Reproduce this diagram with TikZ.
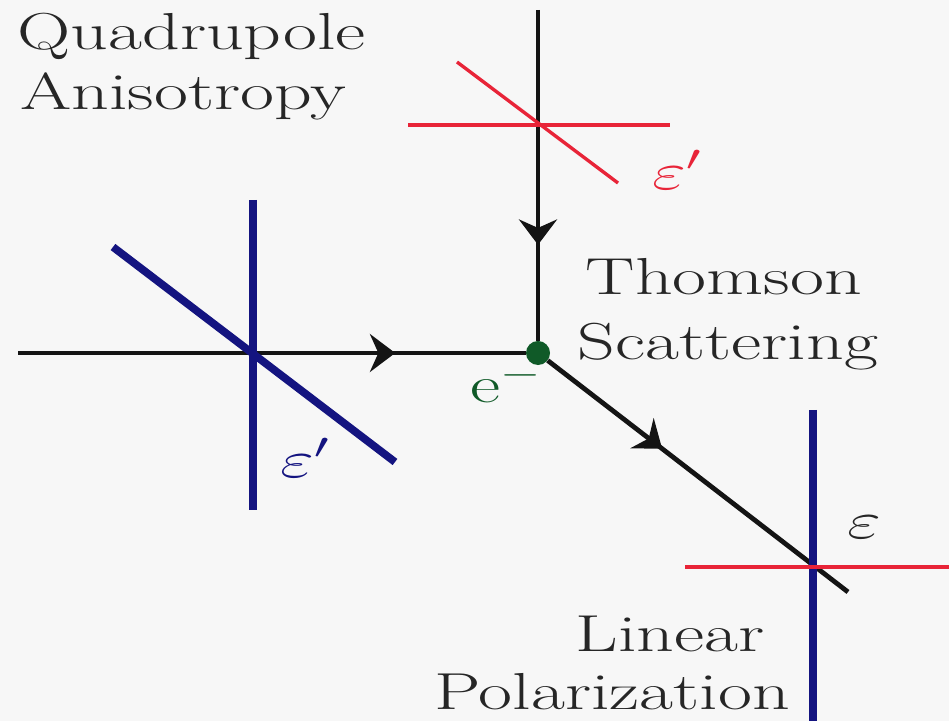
\documentclass[tikz,border=0pt]{standalone}
\usepackage{fix-cm}
\usetikzlibrary{arrows.meta,decorations.markings}

\definecolor{polblue}{RGB}{20,20,128}
\definecolor{polred}{RGB}{232,36,56}
\definecolor{egreen}{RGB}{16,90,40}
\definecolor{bgpaper}{RGB}{247,247,247}

\tikzset{
  beam/.style={line width=3.4pt, black!92},
  midarrow/.style={postaction={decorate}, decoration={markings,
      mark=at position #1 with {\arrow{Stealth[length=18pt,width=27pt,inset=6pt]}}}},
  polb/.style={line width=5.5pt, polblue},
  polr/.style={line width=2.4pt, polred},
  lbl/.style={font=\fontsize{37}{44}\selectfont, xscale=1.42, inner sep=0pt, text=black!85},
}

\begin{document}
\begin{tikzpicture}[x=0.025cm, y=-0.025cm]

		\fill[bgpaper] (0,0) rectangle (949,721);
		\useasboundingbox (0,0) rectangle (949,721);

		% Elektron
		\node[circle, fill=egreen, minimum size=0.6cm, inner sep=0pt] (e) at (538,353) {};
		\node[lbl, text=egreen, anchor=base west] (elab) at (470,403) {e$^-$};

		% Strahlen
		\coordinate (inL) at (18,353);
		\coordinate (inT) at (538,10);
		\coordinate (outE) at (848,592);
		\draw[beam, midarrow=0.743] (inL) -- (e);
		\draw[beam, midarrow=0.71] (inT) -- (e);
		\draw[beam, midarrow=0.381] (e) -- (outE);

		% Polarisation links (blau)
		\draw[polb] (253,200) -- (253,510);
		\draw[polb] (113,247) -- (395,462);
		\node[lbl, text=polblue] (epsL) at (305,458) {$\varepsilon'$};

		% Polarisation oben (rot)
		\draw[polr] (408,125) -- (670,125);
		\draw[polr] (457,62) -- (618,183);
		\node[lbl, text=polred] (epsT) at (677,170) {$\varepsilon'$};

		% Polarisation gestreut
		\draw[polb] (813,410) -- (813,721);
		\draw[polr] (685,567) -- (949,567);
		\node[lbl] (eps) at (864,527) {$\varepsilon$};

		% Beschriftung
		\node[lbl, anchor=base west] (quad) at (17,50) {Quadrupole};
		\node[lbl, anchor=base west] (aniso) at (20,110) {Anisotropy};
		\node[lbl, anchor=base] (thom) at (724,295) {Thomson};
		\node[lbl, anchor=base] (scat) at (728,360) {Scattering};
		\node[lbl, anchor=base] (lin) at (670,651) {Linear};
		\node[lbl, anchor=base] (pol) at (612,709) {Polarization};

	\end{tikzpicture}
\end{document}
